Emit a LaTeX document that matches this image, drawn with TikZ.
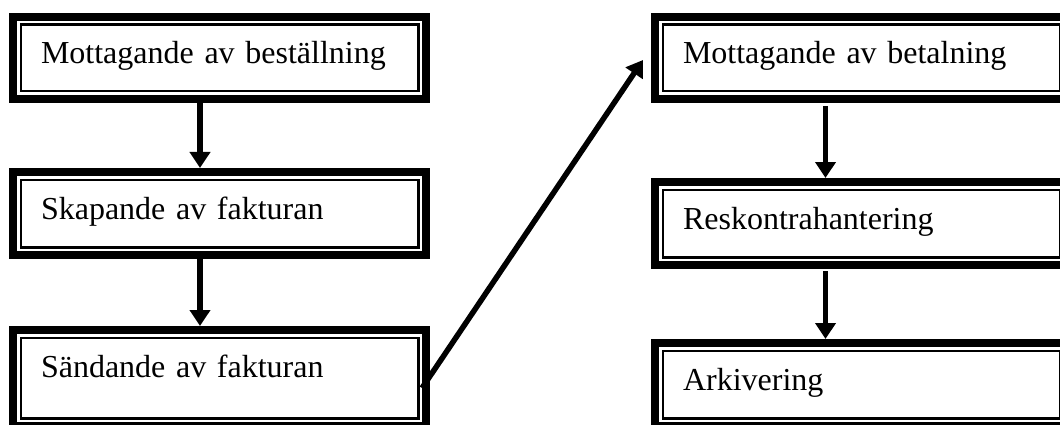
\documentclass[tikz,border=0pt]{standalone}
\usepackage{fontspec}
\setmainfont{Liberation Serif}
\usetikzlibrary{arrows.meta,positioning}
\tikzset{
      arr/.style = {-{Triangle[length=16pt,width=20pt]}, line width=5.5pt},   % <--- thick arrows
    stage/.style = {draw, rectangle, line width=8pt,
                    text width=357pt, inner xsep=28pt, inner ysep=0pt,
                    text height=47pt, text depth=#1,
                    align=left, font=\fontsize{32}{38}\selectfont,
                    path picture={\draw[line width=2.3pt]
                        ([shift={(7.65pt,7.65pt)}]path picture bounding box.south west) rectangle
                        ([shift={(-7.65pt,-7.65pt)}]path picture bounding box.north east);}},
    stage/.default=36pt,
        }

\begin{document}
\begin{tikzpicture}
  \useasboundingbox (0,0) rectangle (1060pt,-425pt);
  \clip (0,0) rectangle (1060pt,-425pt);

  % left column
  \node[stage=35pt] (m1) at (219.5pt,-58pt) {Mottagande av beställning};
  \node[stage] (m2) [below=65pt of m1] {Skapande av fakturan};
  \node[stage=49pt] (m3) [below=67pt of m2] {Sändande av fakturan};

  % right column
  \node[stage=35pt] (m4) [right=221pt of m1] {Mottagande av betalning};
  \node[stage] (m5) [below=75pt of m4] {Reskontrahantering};
  \node[stage] (m6) [below=70pt of m5] {Arkivering};

  \draw[arr] ([xshift=-19.5pt]m1.south) -- ([xshift=-19.5pt]m2.north);
  \draw[arr] ([xshift=-19.5pt]m2.south) -- ([xshift=-19.5pt]m3.north);
  \draw[arr] ([xshift=-8pt,yshift=-10pt]m3.east) -- ([xshift=-8pt,yshift=-2pt]m4.west);
  \draw[arr,shorten <=3pt] ([xshift=-36pt]m4.south) -- ([xshift=-36pt]m5.north);
  \draw[arr,shorten <=2pt] ([xshift=-36pt]m5.south) -- ([xshift=-36pt]m6.north);
\end{tikzpicture}
\end{document}
